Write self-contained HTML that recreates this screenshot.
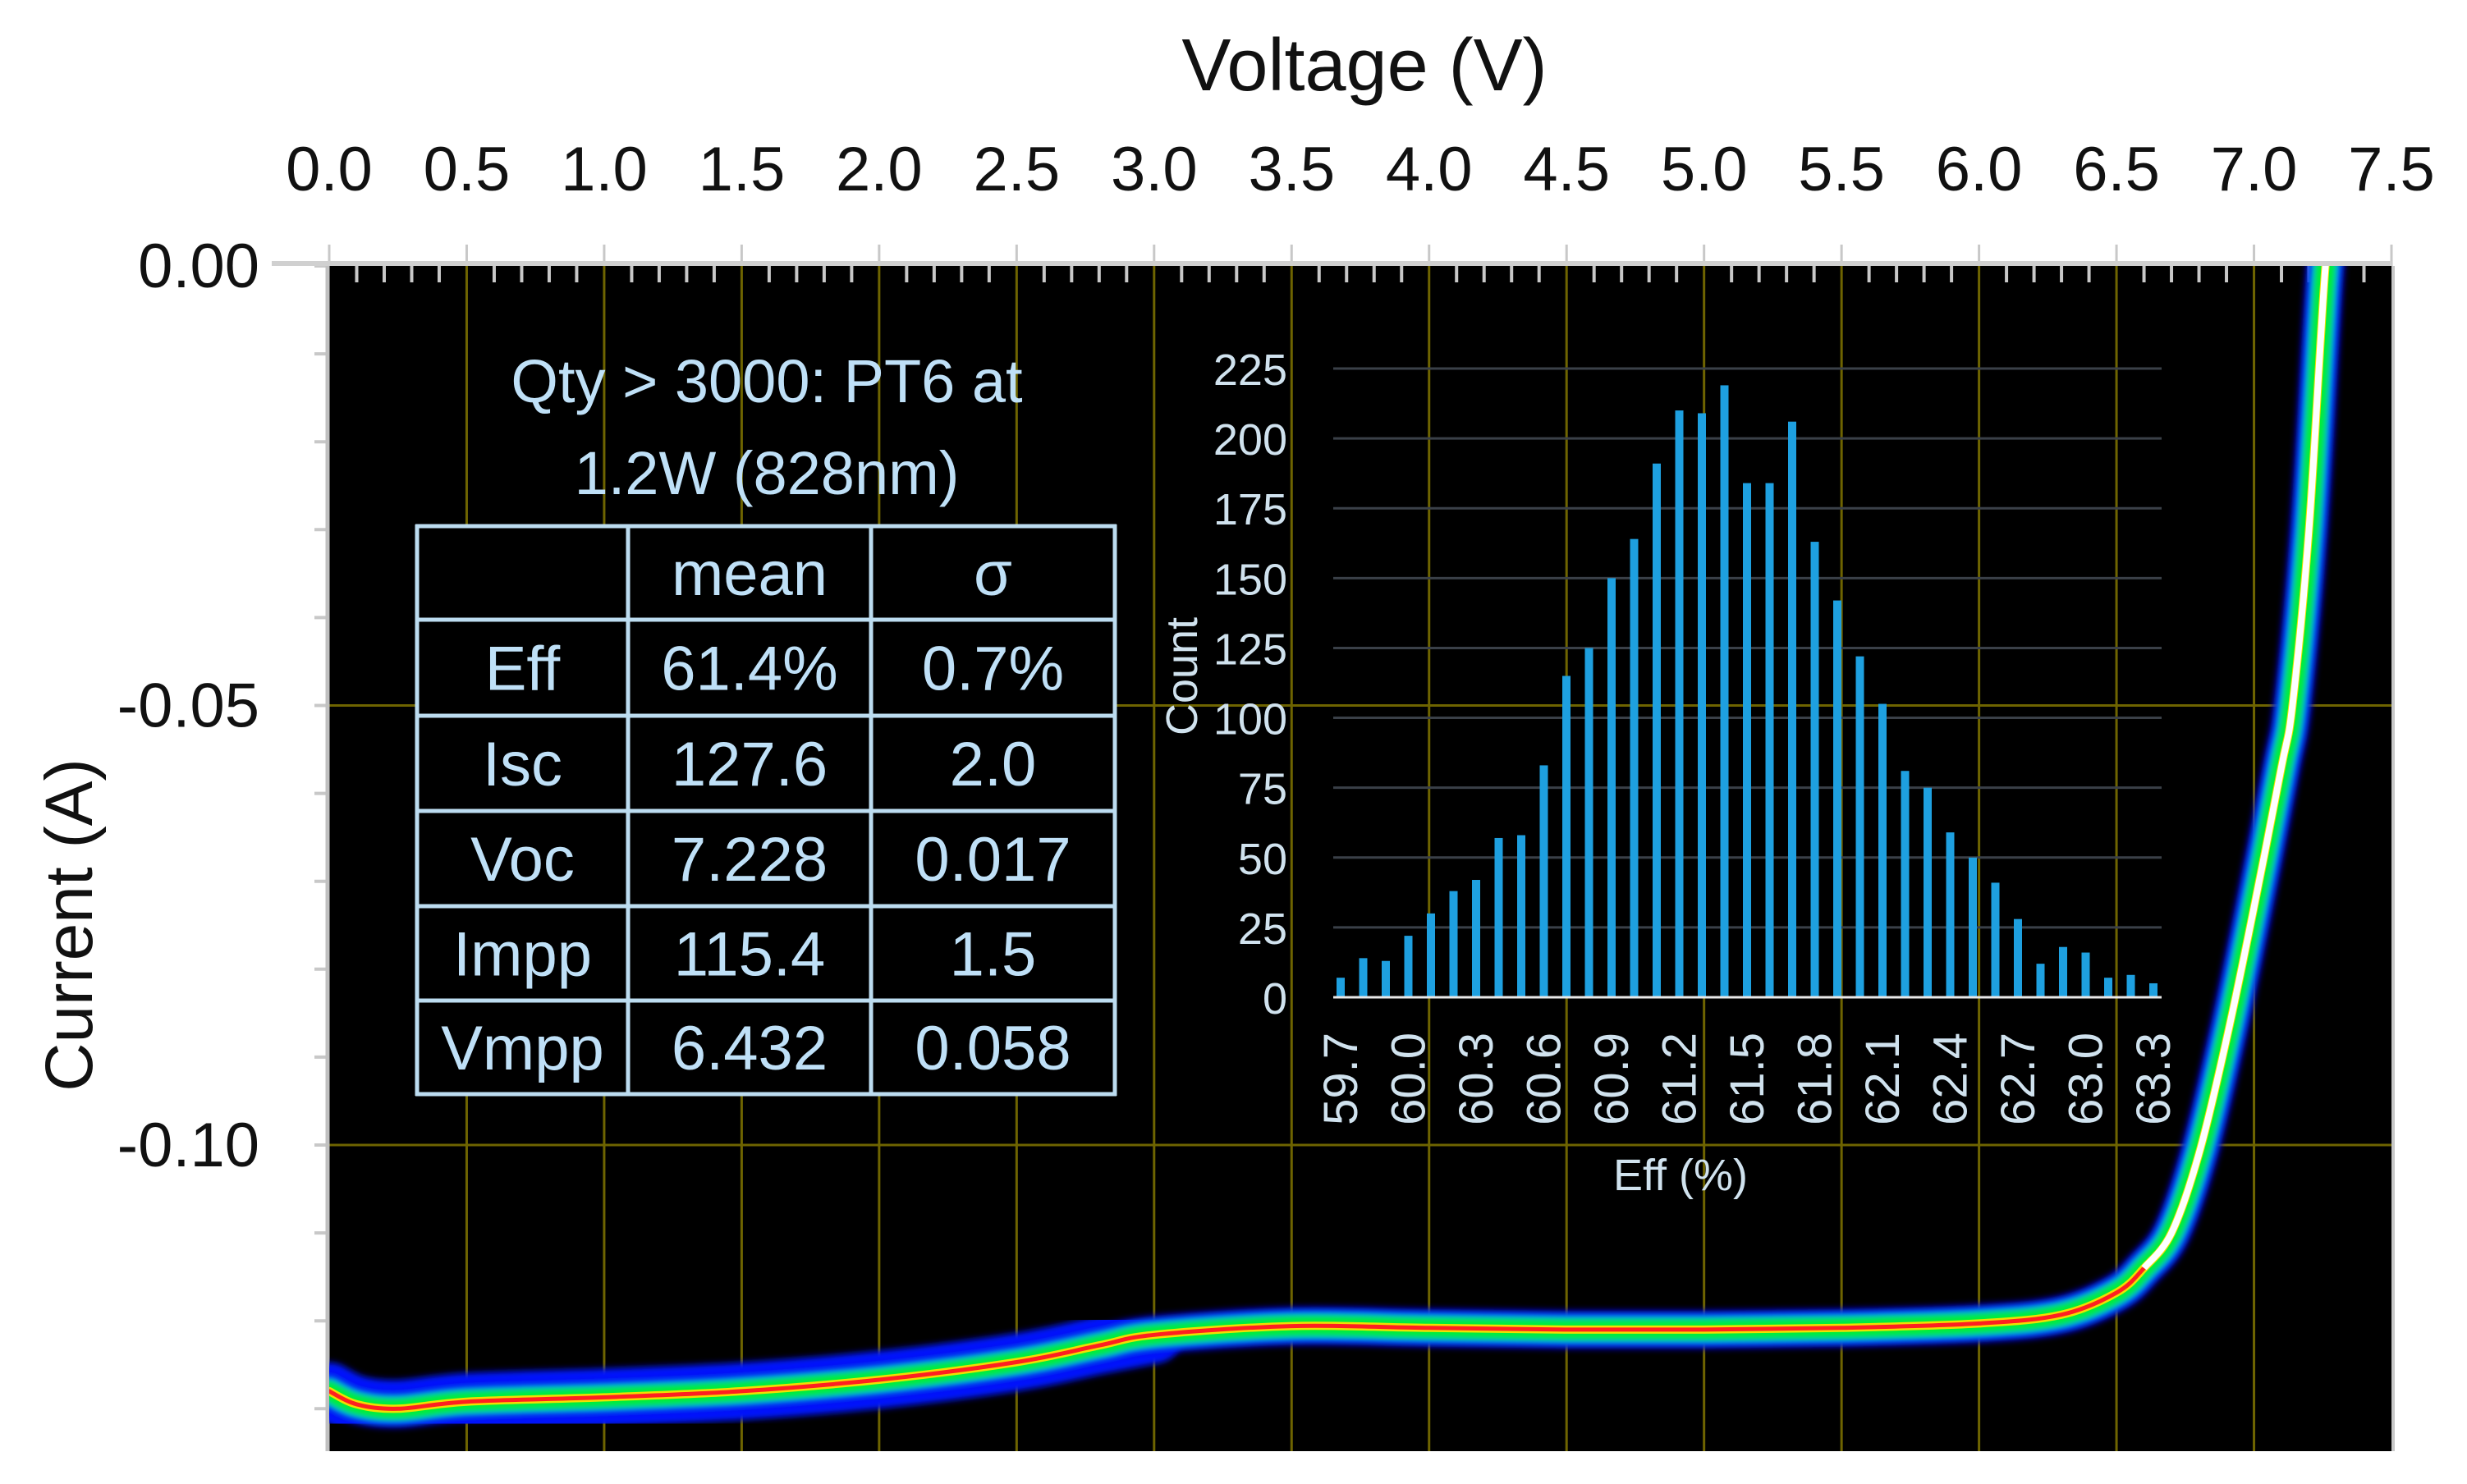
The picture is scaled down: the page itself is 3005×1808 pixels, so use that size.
<!DOCTYPE html>
<html><head><meta charset="utf-8"><style>
html,body{margin:0;padding:0;background:#fff;}
svg{display:block;font-family:"Liberation Sans",sans-serif;}
</style></head><body>
<svg id="chart" width="3005" height="1808" viewBox="0 0 3005 1808" xmlns="http://www.w3.org/2000/svg">
<defs>
<filter id="blur" x="-5%" y="-20%" width="110%" height="140%"><feGaussianBlur stdDeviation="4"/></filter>
</defs>
<rect x="401" y="324" width="2512" height="1444" fill="#000"/>
<g id="grid"></g>
<g id="axes"></g>
<g id="curve"></g>
<text x="1662" y="110" font-size="90" text-anchor="middle" fill="#111">Voltage (V)</text>
<text transform="translate(112,1127) rotate(-90)" font-size="82" text-anchor="middle" fill="#111">Current (A)</text>

<g fill="#bfe0f7" font-size="74" text-anchor="middle">
<text x="934" y="490">Qty &gt; 3000: PT6 at</text>
<text x="934" y="602">1.2W (828nm)</text>
</g>
<g id="table"></g>
<g id="hist"></g>
</svg>
<script>
// ---- main IV curve data ----
const voltages = [0,0.1,0.25,0.5,1.0,1.5,2.0,2.5,2.8,3.0,3.5,4.0,4.5,5.0,5.5,6.0,6.3,6.5,6.6,6.7,6.8,6.9,7.0,7.1,7.14,7.2,7.26,7.3];
const currents = [-0.1280,-0.1295,-0.1300,-0.1292,-0.1287,-0.1280,-0.1267,-0.1247,-0.1228,-0.1216,-0.1206,-0.1208,-0.1210,-0.1210,-0.1208,-0.1203,-0.1193,-0.1168,-0.1140,-0.1100,-0.1010,-0.0880,-0.0730,-0.0570,-0.0500,-0.0300,0.0,0.01];
const xTickLabels = ["0.0","0.5","1.0","1.5","2.0","2.5","3.0","3.5","4.0","4.5","5.0","5.5","6.0","6.5","7.0","7.5"];
const yTickLabels = ["0.00","-0.05","-0.10"];
const yTickValues = [0,-0.05,-0.10];
// ---- histogram data ----
const effBins = [59.7,59.8,59.9,60.0,60.1,60.2,60.3,60.4,60.5,60.6,60.7,60.8,60.9,61.0,61.1,61.2,61.3,61.4,61.5,61.6,61.7,61.8,61.9,62.0,62.1,62.2,62.3,62.4,62.5,62.6,62.7,62.8,62.9,63.0,63.1,63.2,63.3];
const counts = [7,14,13,22,30,38,42,57,58,83,115,125,150,164,191,210,209,219,184,184,206,163,142,122,105,81,75,59,50,41,28,12,18,16,7,8,5];
const histYTicks = [0,25,50,75,100,125,150,175,200,225];
const histXLabels = ["59.7","60.0","60.3","60.6","60.9","61.2","61.5","61.8","62.1","62.4","62.7","63.0","63.3"];
const tableRows = [["","mean","σ"],["Eff","61.4%","0.7%"],["Isc","127.6","2.0"],["Voc","7.228","0.017"],["Impp","115.4","1.5"],["Vmpp","6.432","0.058"]];

const NS="http://www.w3.org/2000/svg";
function mk(tag,attrs,parent){const e=document.createElementNS(NS,tag);for(const k in attrs)e.setAttribute(k,attrs[k]);parent.appendChild(e);return e;}
const X0=401,X1=2913,Y0=324,Y1=1768;
const xV=v=>X0+v*(X1-X0)/7.5;
const yI=i=>Y0-i*10710;
function smooth(P){
  let d='M'+P[0][0].toFixed(1)+','+P[0][1].toFixed(1);
  for(let i=0;i<P.length-1;i++){
    const p0=P[Math.max(i-1,0)],p1=P[i],p2=P[i+1],p3=P[Math.min(i+2,P.length-1)];
    const c1=[p1[0]+(p2[0]-p0[0])/6,p1[1]+(p2[1]-p0[1])/6],c2=[p2[0]-(p3[0]-p1[0])/6,p2[1]-(p3[1]-p1[1])/6];
    d+=' C'+c1[0].toFixed(1)+','+c1[1].toFixed(1)+' '+c2[0].toFixed(1)+','+c2[1].toFixed(1)+' '+p2[0].toFixed(1)+','+p2[1].toFixed(1);
  }
  return d;
}

const grid=document.getElementById('grid'), axes=document.getElementById('axes');
xTickLabels.forEach((lab,k)=>{
  const v=k*0.5,x=xV(v);
  if(k>0&&k<15){const l=mk('line',{x1:x,x2:x,y1:Y0,y2:Y1,stroke:'#6e6400','stroke-width':3},grid);
  }
  const t=mk('line',{x1:x,x2:x,y1:Y0-26,y2:Y0,stroke:'#c8c8c8','stroke-width':3},axes);
  
  const tx=mk('text',{x:x,y:232,'font-size':76,'text-anchor':'middle',fill:'#111'},axes);
  
  tx.textContent=lab;
});
for(let m=1;m<75;m++){
  if(m%5===0)continue;
  const x=xV(m*0.1);
  const t=mk('line',{x1:x,x2:x,y1:Y0,y2:Y0+20,stroke:'#c8c8c8','stroke-width':4},axes);
  
}
yTickValues.forEach((v,k)=>{
  const y=yI(v);
  if(k>0){const l=mk('line',{x1:X0,x2:X1,y1:y,y2:y,stroke:'#6e6400','stroke-width':3},grid);
  }
  const tx=mk('text',{x:316,y:y+26,'font-size':76,'text-anchor':'end',fill:'#111'},axes);
  
  tx.textContent=yTickLabels[k];
});
for(let m=0;m<=14;m++){
  const y=yI(-m*0.01);
  const t=mk('line',{x1:X0-18,x2:X0,y1:y,y2:y,stroke:'#c8c8c8','stroke-width':4},axes);
  
}
let al=mk('line',{x1:X0-70,x2:X1,y1:Y0-3,y2:Y0-3,stroke:'#d0d0d0','stroke-width':6},axes);

al=mk('line',{x1:X0-2,x2:X0-2,y1:Y0,y2:Y1,stroke:'#c0c0c0','stroke-width':5},axes);

al=mk('line',{x1:X1+2,x2:X1+2,y1:Y0,y2:Y1,stroke:'#c8c8c8','stroke-width':4},axes);


// curve band
const curve=document.getElementById('curve');
const P=voltages.map((v,i)=>[xV(v),yI(currents[i])]);
const dAll=smooth(P);
const dLeft=smooth(voltages.map((v,i)=>[v,currents[i]]).filter(p=>p[0]<=3.0).map(p=>[xV(p[0]),yI(p[1])]));
const dSteep=smooth(voltages.map((v,i)=>[v,currents[i]]).filter(p=>p[0]>=6.6).map(p=>[xV(p[0]),yI(p[1])]));
const cp=mk('clipPath',{id:'pc'},curve);mk('rect',{x:X0,y:Y0,width:X1-X0,height:Y1-Y0},cp);
const cg=mk('g',{'clip-path':'url(#pc)'},curve);
const wideL=mk('path',{d:dLeft,fill:'none',stroke:'#0018ff','stroke-width':70,'stroke-linejoin':'round','stroke-linecap':'round',filter:'url(#blur)'},cg);

const layers=[['#0010ee',46,'band-blue'],['#00b8ff',34,'band-cyan'],['#00f030',24,'band-green'],['#f0e000',10,'band-yellow'],['#ff2020',5,'band-red']];
layers.forEach(L=>{
  const p=mk('path',{d:dAll,fill:'none',stroke:L[0],'stroke-width':L[1],'stroke-linejoin':'round','stroke-linecap':'round'},cg);
  if(L[1]>20)p.setAttribute('filter','url(#blur)');
  
});
const wp=mk('path',{d:dSteep,fill:'none',stroke:'#ffffff','stroke-width':8,'stroke-linejoin':'round'},cg);


// table
const tbl=document.getElementById('table');
const colX=[508,765,1061,1358], rowY=[641,755,872,988,1104,1219,1333];
mk('rect',{x:508,y:641,width:850,height:692,fill:'#000'},tbl);
rowY.forEach(y=>{const l=mk('line',{x1:506,x2:1360,y1:y,y2:y,stroke:'#bcdcf0','stroke-width':5},tbl);
  });
colX.forEach(x=>{const l=mk('line',{x1:x,x2:x,y1:639,y2:1335,stroke:'#bcdcf0','stroke-width':5},tbl);
  });
tableRows.forEach((row,r)=>row.forEach((txt,c)=>{
  const t=mk('text',{x:(colX[c]+colX[c+1])/2,y:(rowY[r]+rowY[r+1])/2+27,'font-size':76,'text-anchor':'middle',fill:'#bfe0f7'},tbl);
  
  t.textContent=txt;
}));

// histogram
const hist=document.getElementById('hist');
const HX0=1633,HSTEP=27.5,HB=1215,HT=449;
const xH=v=>HX0+(v-59.7)/0.1*HSTEP;
const yH=c=>HB-c*(HB-HT)/225;
histYTicks.forEach(v=>{
  const y=yH(v);
  if(v>0){const g=mk('line',{x1:1624,x2:2633,y1:y,y2:y,stroke:'#3a4048','stroke-width':3},hist);
  }
  const t=mk('text',{x:1568,y:y+20,'font-size':54,'text-anchor':'end',fill:'#d0e2ee'},hist);
  
  t.textContent=v;
});
effBins.forEach((e,i)=>{
  const x=xH(e),y=yH(counts[i]);
  const b=mk('rect',{x:x-5,y:y,width:10,height:HB-y,fill:'#1ea0e0'},hist);
  
});
const base=mk('line',{x1:1624,x2:2633,y1:HB,y2:HB,stroke:'#e8e8e8','stroke-width':3},hist);

histXLabels.forEach(l=>{
  const x=xH(parseFloat(l));
  const t=mk('text',{transform:`translate(${x+20},1258) rotate(-90)`,'font-size':58,'text-anchor':'end',fill:'#d0e2ee'},hist);
  
  t.textContent=l;
});
let ht=mk('text',{transform:'translate(1458,824) rotate(-90)','font-size':54,'text-anchor':'middle',fill:'#d0e2ee'},hist);
ht.textContent='Count';
ht=mk('text',{x:2047,y:1450,'font-size':54,'text-anchor':'middle',fill:'#d0e2ee'},hist);
ht.textContent='Eff (%)';
</script>
</body></html>
